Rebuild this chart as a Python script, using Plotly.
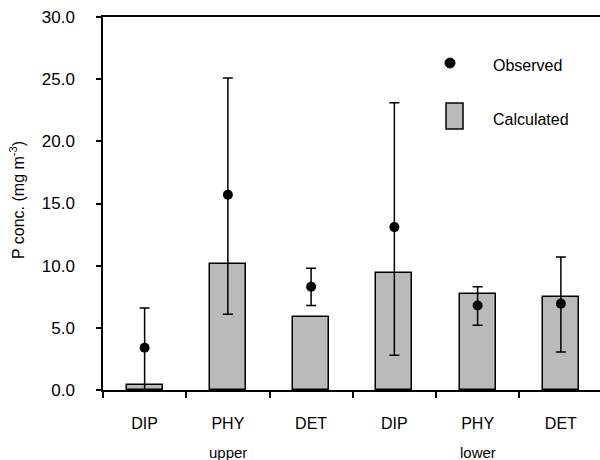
import plotly.graph_objects as go

# ---- data ----
categories = ["DIP", "PHY", "DET", "DIP", "PHY", "DET"]
groups = ["upper", "lower"]
group_centers = [1, 4]
calculated = [0.4, 10.15, 5.9, 9.45, 7.75, 7.5]
observed = [3.4, 15.7, 8.3, 13.1, 6.8, 6.95]
obs_upper = [6.6, 25.1, 9.8, 23.1, 8.3, 10.7]
obs_lower = [0.0, 6.1, 6.8, 2.8, 5.2, 3.05]
y_ticks = [0, 5, 10, 15, 20, 25, 30]

xs = list(range(len(categories)))
err_plus = [u - o for u, o in zip(obs_upper, observed)]
err_minus = [o - l for o, l in zip(observed, obs_lower)]

FONT = "Liberation Sans, Arial, sans-serif"
W, H = 600, 460
ML, MR, MT, MB = 103, 0, 17, 70
PW, PH = W - ML - MR, H - MT - MB


def px(x):
    return (x - ML) / PW


def py(y):
    return (H - MB - y) / PH


fig = go.Figure()
fig.add_trace(go.Bar(
    x=xs, y=calculated, width=0.43, name="Calculated",
    marker=dict(color="#bababa", line=dict(color="black", width=1.5)),
    showlegend=False,
))
fig.add_trace(go.Scatter(
    x=xs, y=observed, mode="markers", name="Observed",
    marker=dict(color="black", size=10),
    error_y=dict(type="data", symmetric=False, array=err_plus, arrayminus=err_minus,
                 color="black", thickness=1.5, width=5),
    showlegend=False,
))

# legend drawn manually
fig.add_shape(type="circle", xref="paper", yref="paper", xsizemode="pixel", ysizemode="pixel",
              xanchor=px(450), yanchor=py(63), x0=-5, x1=5, y0=-5, y1=5,
              fillcolor="black", line=dict(color="black", width=1))
fig.add_shape(type="rect", xref="paper", yref="paper", xsizemode="pixel", ysizemode="pixel",
              xanchor=px(446), yanchor=py(129), x0=0, x1=17, y0=0, y1=26,
              fillcolor="#bababa", line=dict(color="black", width=1.5))
fig.add_annotation(text="Observed", xref="paper", yref="paper", x=px(491), y=py(65),
                   xanchor="left", yanchor="middle", showarrow=False,
                   font=dict(size=16, color="black", family=FONT))
fig.add_annotation(text="Calculated", xref="paper", yref="paper", x=px(491), y=py(120),
                   xanchor="left", yanchor="middle", showarrow=False,
                   font=dict(size=16, color="black", family=FONT))

# group labels
for g, c in zip(groups, group_centers):
    fig.add_annotation(text=g, xref="x", yref="paper", x=c, y=py(452),
                       xanchor="center", yanchor="middle", showarrow=False,
                       font=dict(size=15, color="black", family=FONT))

# y title
fig.add_annotation(text="P conc. (mg m<sup>-3</sup>)", xref="paper", yref="paper",
                   x=px(17), y=py(200), textangle=-90, xanchor="center", yanchor="middle",
                   showarrow=False, font=dict(size=16, color="black", family=FONT))

fig.update_layout(
    width=W, height=H,
    margin=dict(l=ML, r=MR, t=MT, b=MB, pad=0),
    paper_bgcolor="white", plot_bgcolor="white",
    font=dict(family=FONT, color="black", size=16),
    bargap=0,
)
fig.update_xaxes(
    range=[-0.5, 5.47], tickvals=xs, ticktext=categories, ticks="",
    showline=True, linecolor="black", linewidth=1.5, mirror=True,
    showgrid=False, zeroline=False, ticklabelstandoff=18,
    tickfont=dict(size=16),
    minor=dict(ticks="outside", tick0=0.5, dtick=1, ticklen=6, tickcolor="black",
               tickwidth=1.5, showgrid=False),
)
fig.update_yaxes(
    range=[0, 30], tickvals=y_ticks, ticktext=[f"{v:.1f}" for v in y_ticks],
    ticks="outside", ticklen=5, tickcolor="black", tickwidth=1.5,
    showline=True, linecolor="black", linewidth=1.5,
    showgrid=False, zeroline=False, ticklabelstandoff=18,
    tickfont=dict(size=17),
)

fig.write_html("out.html")
